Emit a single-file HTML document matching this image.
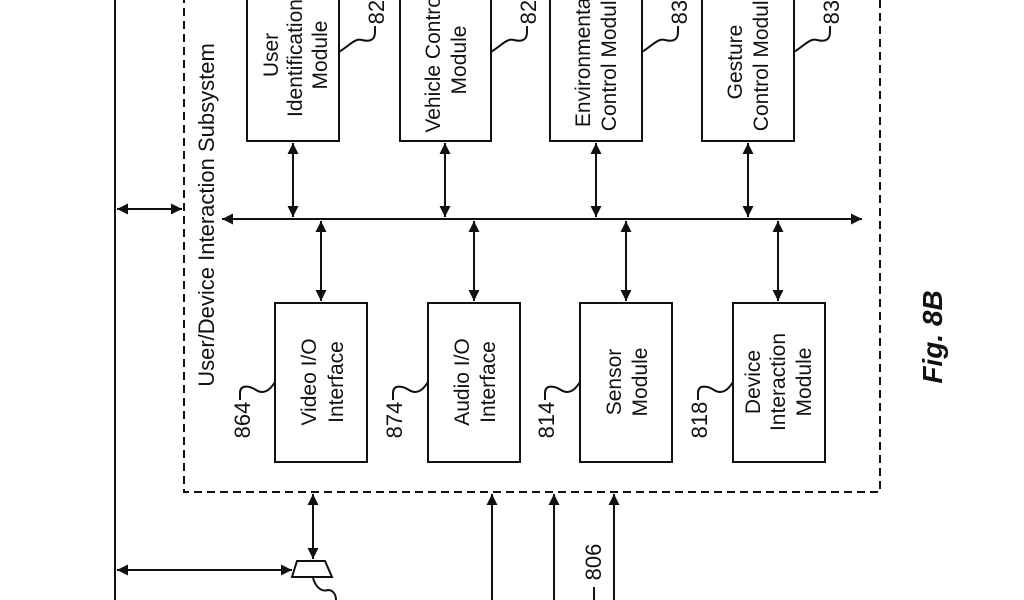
<!DOCTYPE html>
<html><head><meta charset="utf-8"><style>
html,body{margin:0;padding:0;background:#fff;width:1024px;height:600px;overflow:hidden}
svg{display:block}
text{font-family:"Liberation Sans",sans-serif;fill:#111}
</style></head><body>
<svg width="1024" height="600" viewBox="0 0 1024 600">
<defs>
<marker id="b" viewBox="0 0 10 10" refX="10" refY="5" markerWidth="14" markerHeight="11" orient="auto-start-reverse" markerUnits="userSpaceOnUse"><path d="M0,0 L10,5 L0,10 z" fill="#111"/></marker>
</defs>
<g stroke="#111" stroke-width="2" fill="none">
<line x1="115" y1="0" x2="115" y2="600"/>
<path d="M184,-5 V492 H880 V-5" stroke-dasharray="8,5"/>
<line x1="117" y1="209" x2="182" y2="209" marker-start="url(#b)" marker-end="url(#b)"/>
<line x1="222" y1="219" x2="862" y2="219" marker-start="url(#b)" marker-end="url(#b)"/>
<rect x="247" y="-5" width="92" height="146"/>
<rect x="400" y="-5" width="91" height="146"/>
<rect x="550" y="-5" width="92" height="146"/>
<rect x="702" y="-5" width="92" height="146"/>
<line x1="293" y1="143" x2="293" y2="217" marker-start="url(#b)" marker-end="url(#b)"/>
<line x1="445" y1="143" x2="445" y2="217" marker-start="url(#b)" marker-end="url(#b)"/>
<line x1="596" y1="143" x2="596" y2="217" marker-start="url(#b)" marker-end="url(#b)"/>
<line x1="748" y1="143" x2="748" y2="217" marker-start="url(#b)" marker-end="url(#b)"/>
<line x1="321" y1="221" x2="321" y2="301" marker-start="url(#b)" marker-end="url(#b)"/>
<line x1="474" y1="221" x2="474" y2="301" marker-start="url(#b)" marker-end="url(#b)"/>
<line x1="626" y1="221" x2="626" y2="301" marker-start="url(#b)" marker-end="url(#b)"/>
<line x1="778" y1="221" x2="778" y2="301" marker-start="url(#b)" marker-end="url(#b)"/>
<rect x="275" y="303" width="92" height="159"/>
<rect x="428" y="303" width="92" height="159"/>
<rect x="580" y="303" width="92" height="159"/>
<rect x="733" y="303" width="92" height="159"/>
<path d="M240,400 V393 C240,384 250,386 256,390 C264,395 270,390 275,382"/>
<path d="M393,400 V393 C393,384 403,386 409,390 C417,395 423,390 428,382"/>
<path d="M545,400 V393 C545,384 555,386 561,390 C569,395 575,390 580,382"/>
<path d="M698,400 V393 C698,384 708,386 714,390 C722,395 728,390 733,382"/>
<path d="M339,52 C350,45 355,38 362,40 C370,42 375,40 375,32 V26"/>
<path d="M491,52 C502,45 507,38 514,40 C522,42 527,40 527,32 V26"/>
<path d="M642,52 C653,45 658,38 665,40 C673,42 678,40 678,32 V26"/>
<path d="M794,52 C805,45 810,38 817,40 C825,42 830,40 830,32 V26"/>
<line x1="313" y1="494" x2="313" y2="559" marker-start="url(#b)" marker-end="url(#b)"/>
<path d="M297,561 H325 L332,577 H292 Z"/>
<line x1="117" y1="570" x2="292" y2="570" marker-start="url(#b)" marker-end="url(#b)"/>
<path d="M313,578 C316,588 322,592 328,590 C334,590 336,596 336,600"/>
<line x1="492" y1="600" x2="492" y2="494" marker-end="url(#b)"/>
<line x1="554" y1="600" x2="554" y2="494" marker-end="url(#b)"/>
<line x1="614" y1="600" x2="614" y2="494" marker-end="url(#b)"/>
<line x1="594" y1="587" x2="594" y2="600"/>
</g>
<g font-size="21" text-anchor="middle">
<text transform="translate(214,215) rotate(-90)" font-size="22">User/Device Interaction Subsystem</text>
<text transform="translate(278,55) rotate(-90)">User</text>
<text transform="translate(302,58) rotate(-90)">Identification</text>
<text transform="translate(327,55) rotate(-90)">Module</text>
<text transform="translate(440,62) rotate(-90)">Vehicle Control</text>
<text transform="translate(466,60) rotate(-90)">Module</text>
<text transform="translate(590,60) rotate(-90)">Environmental</text>
<text transform="translate(616,60) rotate(-90)">Control Module</text>
<text transform="translate(742,62) rotate(-90)">Gesture</text>
<text transform="translate(768,60) rotate(-90)">Control Module</text>
<text transform="translate(316,382) rotate(-90)">Video I/O</text>
<text transform="translate(343,382) rotate(-90)">Interface</text>
<text transform="translate(469,382) rotate(-90)">Audio I/O</text>
<text transform="translate(495,382) rotate(-90)">Interface</text>
<text transform="translate(621,382) rotate(-90)">Sensor</text>
<text transform="translate(647,382) rotate(-90)">Module</text>
<text transform="translate(760,382) rotate(-90)">Device</text>
<text transform="translate(785,382) rotate(-90)">Interaction</text>
<text transform="translate(811,382) rotate(-90)">Module</text>
<text transform="translate(250,420) rotate(-90)" font-size="22">864</text>
<text transform="translate(402,420) rotate(-90)" font-size="22">874</text>
<text transform="translate(554,420) rotate(-90)" font-size="22">814</text>
<text transform="translate(707,420) rotate(-90)" font-size="22">818</text>
<text transform="translate(384,6) rotate(-90)" font-size="22">822</text>
<text transform="translate(536,6) rotate(-90)" font-size="22">826</text>
<text transform="translate(687,6) rotate(-90)" font-size="22">830</text>
<text transform="translate(839,6) rotate(-90)" font-size="22">832</text>
<text transform="translate(601,562) rotate(-90)" font-size="22">806</text>
<text transform="translate(942,337) rotate(-90)" font-size="28" font-weight="bold" font-style="italic">Fig. 8B</text>
</g>
</svg>
</body></html>
